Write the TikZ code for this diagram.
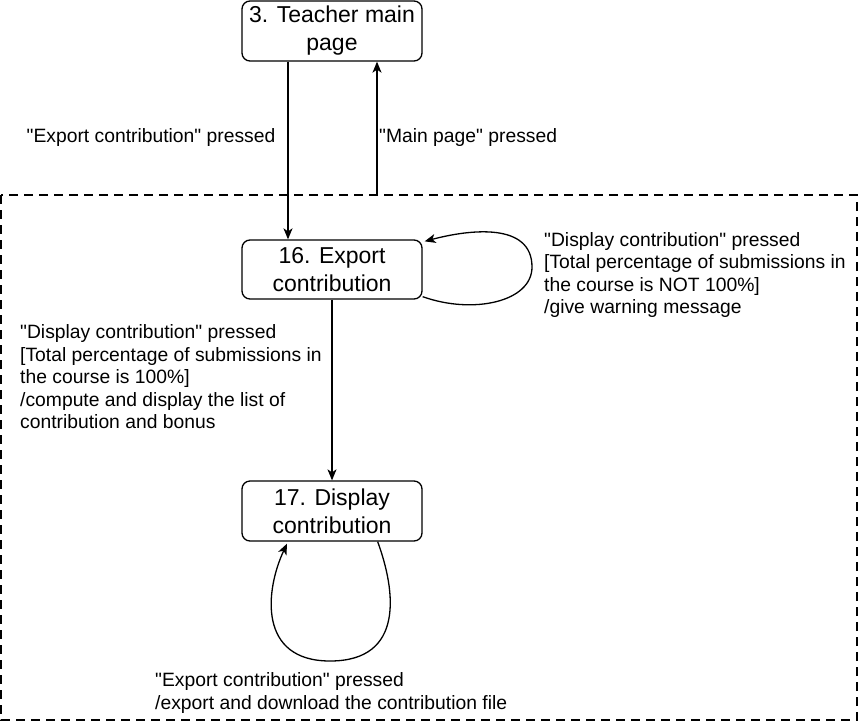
\documentclass[tikz,border=0pt]{standalone}
\usepackage{fontspec}
\setmainfont{Liberation Sans}[Ligatures=TeXOff]
\usetikzlibrary{arrows.meta}
\begin{document}
\begin{tikzpicture}[x=1pt,y=-1pt,
  state/.style={draw,rounded corners=8pt,line width=1.3pt,minimum width=180pt,minimum height=60pt,inner sep=0pt,align=center,font=\fontsize{23}{28}\selectfont},
  lbl/.style={align=left,inner sep=0pt,font=\fontsize{19.3}{22.5}\selectfont},
  conn/.style={line width=1.3pt,-{Stealth[length=11pt,width=9pt,inset=3pt]}},
  grpbox/.style={draw,dashed,line width=2pt,dash pattern=on 9pt off 6pt}]
\useasboundingbox (0,0) rectangle (858,723);
\draw[grpbox] (1,195) rectangle (857,720);
\coordinate (gtop) at (377,195);
\node[state] (b3) at (332,31) {3. Teacher main\\page};
\node[state,minimum height=59pt] (b16) at (332,269.5) {16. Export\\contribution};
\node[state] (b17) at (332,511) {17. Display\\contribution};
\draw[conn] ([xshift=-44pt]b3.south) -- ([xshift=-44pt]b16.north);
\draw[conn] (gtop) -- (gtop |- b3.south);
\draw[conn] (b16.south) -- (b17.north);
\draw[conn] ([yshift=3pt]b16.south east) .. controls +(50,18) and +(0,35) .. (532,267) .. controls +(0,-45) and +(45,-12) .. ([xshift=2pt,yshift=-2pt]b16.north east);
\draw[conn] ([xshift=-45pt]b17.south east) .. controls +(18,49) and +(75,0) .. (330,661) .. controls +(-72,0) and +(-22,47) .. ([xshift=-45pt,yshift=-2pt]b17.south);
\node[lbl] (l1) at (151,138) {"Export contribution" pressed};
\node[lbl,anchor=west] (l2) at (379,138) {"Main page" pressed};
\node[lbl,anchor=west] (l3) at (544,275) {"Display contribution" pressed\\{}[Total percentage of submissions in\\the course is NOT 100\%]\\/give warning message};
\node[lbl,anchor=west] (l4) at (20,377) {"Display contribution" pressed\\{}[Total percentage of submissions in\\the course is 100\%]\\/compute and display the list of\\contribution and bonus};
\node[lbl,anchor=west] (l5) at (155,693) {"Export contribution" pressed\\/export and download the contribution file};
\end{tikzpicture}
\end{document}
